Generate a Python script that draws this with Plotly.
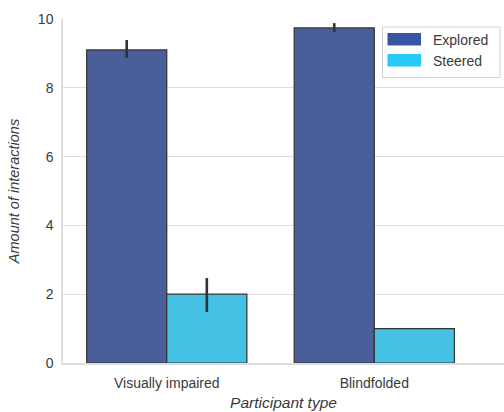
import plotly.graph_objects as go

# Mean number of interactions per participant type, with error bar extents
participant_types = ["Visually impaired", "Blindfolded"]
explored_mean = [9.10, 9.74]
explored_err_plus = [0.29, 0.14]
explored_err_minus = [0.23, 0.12]
steered_mean = [2.0, 1.0]
steered_err_plus = [0.47, 0.0]
steered_err_minus = [0.52, 0.0]
y_ticks = [0, 2, 4, 6, 8, 10]

bar_colors = {"Explored": "#4a5e9a", "Steered": "#45c2e3"}
legend_colors = {"Explored": "#3a54a4", "Steered": "#27c9f8"}
edge = "#333333"
text_color = "#3a3a3a"
font = "Liberation Sans, Arial, sans-serif"

W, H = 504, 412
L, T, B = 63, 19, 49
R = 0


def px_x(px):
    return (px - L) / (W - L - R)


def px_y(py):
    return (H - B - py) / (H - B - T)


fig = go.Figure()
fig.add_trace(go.Bar(
    name="Explored", x=participant_types, y=explored_mean,
    marker=dict(color=bar_colors["Explored"], line=dict(color=edge, width=1.2)),
    error_y=dict(type="data", symmetric=False, array=explored_err_plus,
                 arrayminus=explored_err_minus, color=edge, thickness=2.6, width=0),
    showlegend=False,
))
fig.add_trace(go.Bar(
    name="Steered", x=participant_types, y=steered_mean,
    marker=dict(color=bar_colors["Steered"], line=dict(color=edge, width=1.2)),
    error_y=dict(type="data", symmetric=False, array=steered_err_plus,
                 arrayminus=steered_err_minus, color=edge, thickness=2.6, width=0),
    showlegend=False,
))

# Legend box drawn as shapes + text
shapes = [dict(type="rect", xref="paper", yref="paper",
               x0=px_x(382.5), x1=px_x(500), y0=px_y(77.5), y1=px_y(27),
               line=dict(color="#d0d0d0", width=1), fillcolor="rgba(255,255,255,0.85)", layer="above")]
annotations = []
for i, name in enumerate(["Explored", "Steered"]):
    top = 33 + i * 21
    shapes.append(dict(type="rect", xref="paper", yref="paper",
                       x0=px_x(387.5), x1=px_x(421), y0=px_y(top + 12.5), y1=px_y(top),
                       line=dict(width=0), fillcolor=legend_colors[name], layer="above"))
    annotations.append(dict(xref="paper", yref="paper", x=px_x(431), y=px_y(top + 6.5),
                            text=name, showarrow=False, xanchor="left", yanchor="middle",
                            font=dict(family=font, size=14, color=text_color)))

fig.update_layout(
    width=W, height=H,
    margin=dict(l=L, r=R, t=T, b=B, pad=0),
    barmode="group", bargap=0.228, bargroupgap=0,
    plot_bgcolor="white", paper_bgcolor="white",
    font=dict(family=font, size=12, color=text_color),
    shapes=shapes, annotations=annotations,
    xaxis=dict(
        range=[-0.5, 1.625], showgrid=False, showline=True, linecolor="#dddddd", linewidth=1.5,
        ticks="", tickfont=dict(size=14, color=text_color), ticklabelstandoff=6,
        title=dict(text="<i>Participant type</i>", font=dict(size=15.5, color=text_color), standoff=8),
        zeroline=False, mirror=False,
    ),
    yaxis=dict(
        range=[0, 10], tickvals=y_ticks, showgrid=True, gridcolor="#dddddd", gridwidth=1.3,
        showline=True, linecolor="#dddddd", linewidth=1.5, zeroline=False,
        ticks="", tickfont=dict(size=14, color=text_color), ticklabelstandoff=5,
        title=dict(text="<i>Amount of interactions</i>", font=dict(size=14.5, color=text_color), standoff=15),
    ),
)

fig.write_html("out.html")
